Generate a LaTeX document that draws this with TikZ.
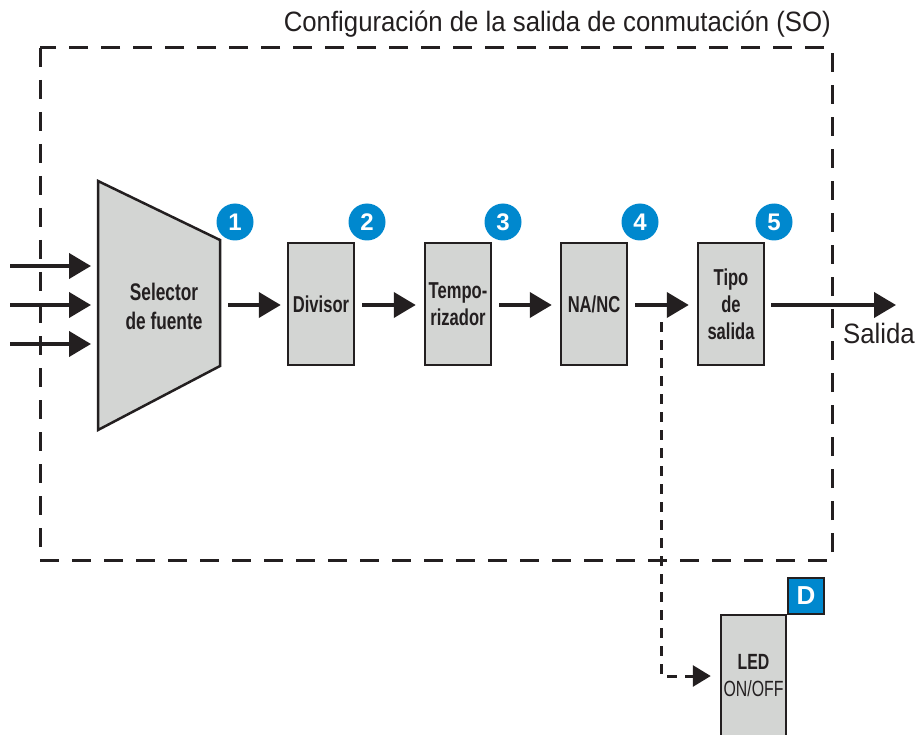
\documentclass[tikz,border=0pt]{standalone}
\usepackage{fontspec}
\setmainfont{Liberation Sans}
\newfontfamily\cond[FakeStretch=0.92]{Liberation Sans}
\newfontfamily\condb[FakeStretch=0.72]{Liberation Sans}
\usetikzlibrary{arrows.meta}
\definecolor{boxgray}{HTML}{D3D5D3}
\definecolor{badgeblue}{HTML}{0088CE}
\definecolor{ink}{HTML}{231F20}
\begin{document}
\begin{tikzpicture}[x=1pt,y=-1pt,
  blk/.style={draw=ink, line width=2.5pt, fill=boxgray, minimum width=66pt, minimum height=122pt, inner sep=0pt, align=center, font=\condb\bfseries\fontsize{23}{27}\selectfont, text=ink},
  badge/.style={circle, fill=badgeblue, minimum size=37pt, inner sep=0pt, text=white, font=\bfseries\fontsize{24}{24}\selectfont},
  flow/.style={-{Triangle[length=22pt,width=25pt]}, line width=4pt, draw=ink},
  branch/.style={-{Triangle[length=18pt,width=21pt]}, line width=3pt, draw=ink, dash pattern=on 10pt off 8pt},
  frame/.style={draw=ink, line width=3pt, dash pattern=on 19pt off 13pt},
  lbl/.style={font=\cond\fontsize{28}{28}\selectfont, text=ink, inner sep=0pt}
]
\useasboundingbox (0,0) rectangle (915,735);
% frame
\draw[frame] (40,48) rectangle (832,560);
\node[lbl, anchor=south east] (title) at (831,38) {Configuración de la salida de conmutación (SO)};
% selector
\coordinate (s1) at (98,181);
\coordinate (s2) at (220,240);
\coordinate (s3) at (220,366);
\coordinate (s4) at (98,430);
\draw[draw=ink, line width=2.5pt, fill=boxgray, line join=miter] (s1) -- (s2) -- (s3) -- (s4) -- cycle;
\node[font=\condb\bfseries\fontsize{24}{29}\selectfont, text=ink, align=center] (sel) at (164,306) {Selector\\de fuente};
\coordinate (selR) at (220,305);
\coordinate (selL1) at (98,266);
\coordinate (selL2) at (98,305);
\coordinate (selL3) at (98,344);
\coordinate (in1) at (10,266);
\coordinate (in2) at (10,305);
\coordinate (in3) at (10,344);
% blocks
\node[blk] (div) at (321,304) {Divisor};
\node[blk] (tem) at (458,304) {Tempo-\\rizador};
\node[blk] (nanc) at (594,304) {NA/NC};
\node[blk] (tipo) at (731,304) {Tipo\\de\\salida};
\node[blk, minimum width=65pt, font=\condb\fontsize{22}{27}\selectfont] (led) at (753.5,676) {{\bfseries LED}\\ON/OFF};
\node[draw=ink, line width=2.5pt, fill=badgeblue, minimum size=36pt, inner sep=0pt, text=white, font=\bfseries\fontsize{26}{26}\selectfont] (dsq) at (806,596) {D};
% badges
\node[badge] (b1) at (235,222) {1};
\node[badge] (b2) at (367,222) {2};
\node[badge] (b3) at (503,222) {3};
\node[badge] (b4) at (640,222) {4};
\node[badge] (b5) at (774,222) {5};
% arrows
\draw[flow, shorten >=7pt] (in1) -- (selL1);
\draw[flow, shorten >=7pt] (in2) -- (selL2);
\draw[flow, shorten >=7pt] (in3) -- (selL3);
\draw[flow, shorten <=8pt, shorten >=6pt] (selR) -- (div.west |- selR);
\draw[flow, shorten <=7pt, shorten >=8pt] (div.east |- selR) -- (tem.west |- selR);
\draw[flow, shorten <=7pt, shorten >=8pt] (tem.east |- selR) -- (nanc.west |- selR);
\draw[flow, shorten <=7pt, shorten >=8pt] (nanc.east |- selR) -- (tipo.west |- selR);
\coordinate (out) at (896,305);
\draw[flow, shorten <=6pt] (tipo.east |- selR) -- (out);
\node[lbl, anchor=north west] (salida) at (843,323) {Salida};
% branch
\coordinate (br) at (661,322);
\draw[branch, shorten >=9pt] (br) |- (led.west);
\end{tikzpicture}
\end{document}
